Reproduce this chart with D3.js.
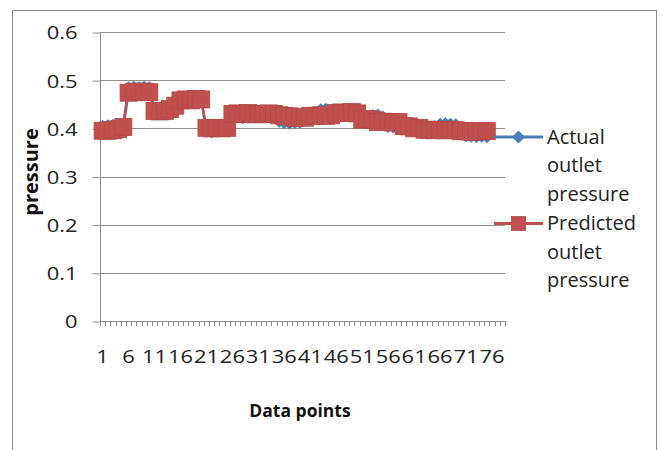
<!DOCTYPE html>
<html>
<head>
<meta charset="utf-8">
<script src="https://cdn.jsdelivr.net/npm/d3@7"></script>
<style>
  html, body { margin: 0; padding: 0; background: #fff; }
  svg { display: block; }
</style>
</head>
<body>
<svg id="chart" width="665" height="450"></svg>
<script>
// Category axis: data point numbers 1..78
const categories = d3.range(1, 79);
const xTickLabels = ["1", "6", "11", "16", "21", "26", "31", "36", "41", "46", "51", "56", "61", "66", "71", "76"];
const yTicks = [0, 0.1, 0.2, 0.3, 0.4, 0.5, 0.6];
const yTickLabels = ["0", "0.1", "0.2", "0.3", "0.4", "0.5", "0.6"];

// Measured outlet pressure
const actual = [
  0.406, 0.407, 0.408, 0.408, 0.410,
  0.486, 0.487, 0.486, 0.487, 0.486,
  0.440, 0.438, 0.440, 0.442, 0.448,
  0.460, 0.462, 0.460, 0.462, 0.460,
  0.392, 0.391, 0.393, 0.395, 0.397,
  0.425, 0.423, 0.420, 0.421, 0.424, 0.428, 0.430, 0.430, 0.428,
  0.413, 0.410, 0.409, 0.410, 0.411, 0.415,
  0.428, 0.432, 0.440, 0.441, 0.435,
  0.432, 0.434, 0.433, 0.432, 0.430,
  0.422, 0.425, 0.428, 0.429, 0.425,
  0.402, 0.401, 0.405,
  0.405, 0.402, 0.400, 0.399,
  0.398, 0.400, 0.405, 0.410, 0.411, 0.410, 0.409,
  0.390, 0.383, 0.382, 0.381, 0.382, 0.381
];

// Model-predicted outlet pressure
const predicted = [
  0.395, 0.395, 0.396, 0.398, 0.403,
  0.474, 0.475, 0.476, 0.476, 0.475,
  0.436, 0.435, 0.436, 0.440, 0.447,
  0.458, 0.460, 0.458, 0.461, 0.460,
  0.401, 0.400, 0.401, 0.400, 0.401,
  0.430, 0.431, 0.430, 0.432, 0.430, 0.429, 0.430, 0.431, 0.430,
  0.427, 0.426, 0.425,
  0.422, 0.423, 0.422,
  0.426, 0.426, 0.427, 0.426, 0.427,
  0.432, 0.433, 0.432, 0.434, 0.431,
  0.418, 0.419, 0.418,
  0.413, 0.414, 0.413, 0.412, 0.413,
  0.405, 0.404,
  0.400, 0.401,
  0.397, 0.397, 0.396, 0.397, 0.396, 0.397, 0.396,
  0.394, 0.394, 0.393, 0.394, 0.394, 0.394
];

const seriesNames = [["Actual", "outlet", "pressure"], ["Predicted", "outlet", "pressure"]];

const BLUE = "#4A7EBB";
const RED = "#C0504D";
const GRID = "#8e8e8e";
const FONT = "'Open Sans', 'Noto Sans', sans-serif";
const STRETCH = "scale(1.22,1)";

const svg = d3.select("#chart");
svg.append("rect").attr("width", 665).attr("height", 450).attr("fill", "#fff");

// chart frame
svg.append("rect")
  .attr("x", 12.5).attr("y", 10.5).attr("width", 644).attr("height", 460)
  .attr("fill", "none").attr("stroke", "#8a8a8a").attr("stroke-width", 1);

const plot = { left: 100, right: 505, top: 32, bottom: 321 };

const x = d3.scaleBand().domain(categories).range([plot.left, plot.right]).paddingInner(0).paddingOuter(0);
const y = d3.scaleLinear().domain([0, 0.6]).range([plot.bottom, plot.top]);
const cx = i => x(categories[i]) + x.bandwidth() / 2;

// horizontal gridlines
svg.append("g").selectAll("line").data(yTicks.filter(v => v > 0)).join("line")
  .attr("x1", plot.left).attr("x2", plot.right)
  .attr("y1", d => Math.round(y(d)) + 0.5).attr("y2", d => Math.round(y(d)) + 0.5)
  .attr("stroke", GRID).attr("stroke-width", 1);

// y axis
const yAxis = d3.axisLeft(y).tickValues(yTicks).tickSize(8).tickFormat((d, i) => yTickLabels[i]);
const gy = svg.append("g").attr("transform", `translate(${plot.left + 0.5},0.5)`).call(yAxis);
gy.select(".domain").attr("stroke", GRID).attr("d", `M0,${plot.top - 0.5}V${plot.bottom - 0.5}`);
gy.selectAll(".tick line").attr("stroke", GRID);
gy.selectAll(".tick text")
  .attr("x", 0).attr("dy", "0.36em")
  .attr("transform", `translate(-23,0) ${STRETCH}`)
  .attr("fill", "#222").style("font-family", FONT).style("font-size", "18px");

// x axis line and category boundary ticks
svg.append("line")
  .attr("x1", plot.left).attr("x2", plot.right)
  .attr("y1", plot.bottom + 0.5).attr("y2", plot.bottom + 0.5)
  .attr("stroke", GRID);
svg.append("g").selectAll("line").data(categories.concat([null])).join("line")
  .attr("x1", (d, i) => Math.round(d === null ? plot.right : x(d)) + 0.5)
  .attr("x2", (d, i) => Math.round(d === null ? plot.right : x(d)) + 0.5)
  .attr("y1", plot.bottom).attr("y2", plot.bottom + 5)
  .attr("stroke", GRID);

// x tick labels every fifth category
const xAxis = d3.axisBottom(x).tickValues(xTickLabels.map(Number)).tickSize(0).tickFormat(d => String(d));
const gx = svg.append("g").attr("transform", `translate(0,${plot.bottom})`).call(xAxis);
gx.select(".domain").remove();
gx.selectAll(".tick text")
  .attr("y", 0).attr("dy", 0)
  .attr("transform", `translate(0,42) ${STRETCH}`)
  .attr("fill", "#222").style("font-family", FONT).style("font-size", "18px");

// axis titles
svg.append("text")
  .attr("x", 300).attr("y", 417).attr("text-anchor", "middle")
  .style("font-family", FONT).style("font-size", "17.5px").style("font-weight", "bold")
  .attr("fill", "#111").text("Data points");
svg.append("text")
  .attr("transform", "translate(38,172) rotate(-90)").attr("text-anchor", "middle")
  .style("font-family", FONT).style("font-size", "20px").style("font-weight", "bold")
  .attr("fill", "#111").text("pressure");

// series lines and markers
const line = d3.line().x((d, i) => cx(i)).y(d => y(d));
const diamond = s => `M0,${-s}L${s},0L0,${s}L${-s},0Z`;

svg.append("path").datum(actual).attr("d", line)
  .attr("fill", "none").attr("stroke", BLUE).attr("stroke-width", 2.5).attr("stroke-linejoin", "round");
svg.append("g").selectAll("path").data(actual).join("path")
  .attr("transform", (d, i) => `translate(${cx(i)},${y(d)})`)
  .attr("d", diamond(5.5)).attr("fill", BLUE).attr("stroke", BLUE).attr("stroke-width", 0.5);

svg.append("path").datum(predicted).attr("d", line)
  .attr("fill", "none").attr("stroke", RED).attr("stroke-width", 2.5).attr("stroke-linejoin", "round");
svg.append("g").selectAll("rect").data(predicted).join("rect")
  .attr("x", (d, i) => cx(i) - 8.5).attr("y", d => y(d) - 8.5)
  .attr("width", 17).attr("height", 17)
  .attr("fill", RED).attr("stroke", "#B44A47").attr("stroke-width", 0.8);

// legend
const legend = svg.append("g");
const legendRows = [137, 223.5];
legend.append("line").attr("x1", 494).attr("x2", 543).attr("y1", legendRows[0]).attr("y2", legendRows[0])
  .attr("stroke", BLUE).attr("stroke-width", 3);
legend.append("path").attr("transform", `translate(518.5,${legendRows[0]})`).attr("d", diamond(6.5)).attr("fill", BLUE);
legend.append("line").attr("x1", 494).attr("x2", 543).attr("y1", legendRows[1]).attr("y2", legendRows[1])
  .attr("stroke", RED).attr("stroke-width", 3);
legend.append("rect").attr("x", 511.5).attr("y", legendRows[1] - 7).attr("width", 14).attr("height", 14)
  .attr("fill", RED).attr("stroke", "#B44A47").attr("stroke-width", 0.8);

seriesNames.forEach((lines, k) => {
  const t = legend.append("text")
    .attr("x", 547).attr("y", legendRows[k] + 6.5)
    .style("font-family", FONT).style("font-size", "20px").attr("fill", "#222");
  lines.forEach((s, j) => {
    t.append("tspan").attr("x", 547).attr("dy", j === 0 ? 0 : 28.5).text(s);
  });
});
</script>
</body>
</html>
